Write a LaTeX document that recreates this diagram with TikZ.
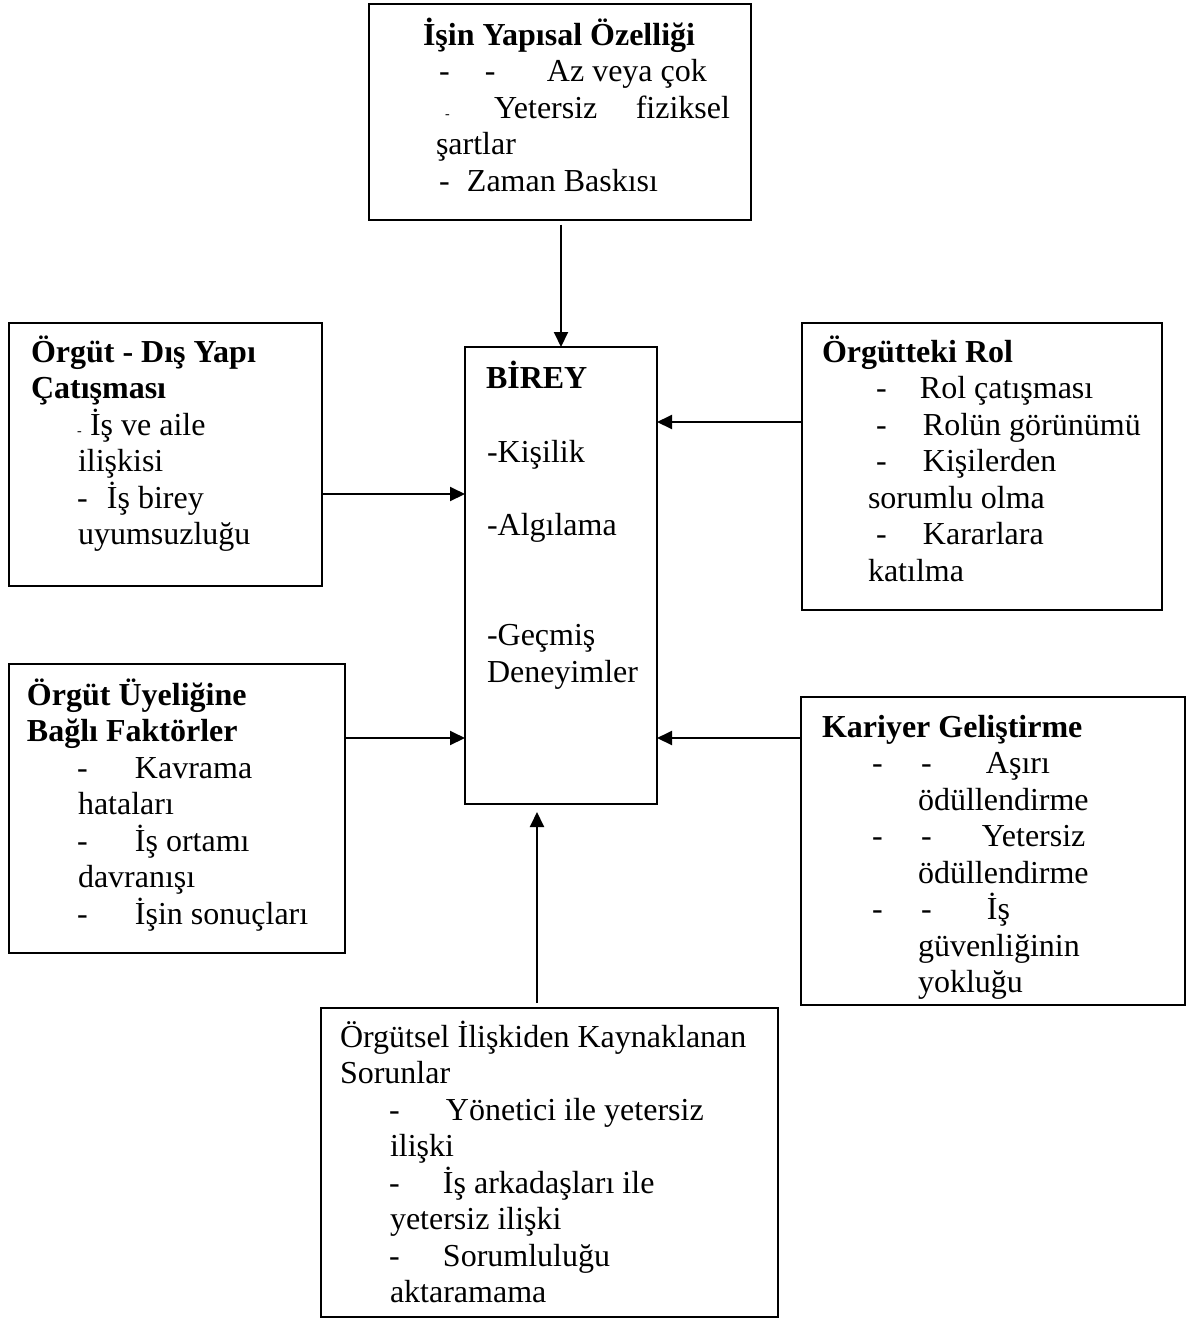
\documentclass[tikz,border=0pt]{standalone}
\usepackage{fontspec}
\setmainfont{Liberation Serif}
\usetikzlibrary{arrows.meta,calc}
% a hyphen that keeps no width, followed by a fixed gap (tab stop)
\newcommand\dsh[1]{\rlap{-}\hspace*{#1pt}}
% a small hyphen, as in the original lists
\newcommand\sdsh[1]{\rlap{\fontsize{14pt}{14pt}\selectfont -}\hspace*{#1pt}}
% one line of text, placed by its baseline start
\newcommand\txtline[4]{\node[txt] (#1) at (#2,#3) {#4};}
\newcommand\hdline[4]{\node[head] (#1) at (#2,#3) {#4};}

\begin{document}
\begin{tikzpicture}[x=1pt,y=-1pt,
  box/.style={draw, line width=2pt, inner sep=0pt, outer sep=0pt, anchor=north west},
  txt/.style={anchor=base west, inner sep=0pt, outer sep=0pt,
              font=\fontsize{32pt}{36.6pt}\selectfont},
  head/.style={txt, font=\fontsize{32pt}{36.6pt}\selectfont\bfseries},
  arr/.style={line width=2pt, -{Triangle[length=15pt,width=14pt]}}]

\useasboundingbox (0,0) rectangle (1198,1320);

% ---- boxes ----
\node[box, minimum width=382pt, minimum height=216pt] (T)  at (369,3.5) {};
\node[box, minimum width=313pt, minimum height=263pt] (L1) at (9,323) {};
\node[box, minimum width=360pt, minimum height=287pt] (R1) at (802,323) {};
\node[box, minimum width=336pt, minimum height=289pt] (L2) at (9,664) {};
\node[box, minimum width=384pt, minimum height=308pt] (R2) at (801,697) {};
\node[box, minimum width=457pt, minimum height=309pt] (B)  at (321,1008) {};
\node[box, minimum width=192pt, minimum height=457pt] (C)  at (465,347) {};

% ---- connectors into the central box ----
\draw[arr] ($(T.south)+(1,5)$) -- ($(T.south |- C.north)+(1,0)$);
\draw[arr] ($(B.north)+(-12.5,-5)$) -- ($(B.north |- C.south)+(-12.5,8)$);
\draw[arr] ($(L1.north east)+(0,171)$) coordinate (a1) -- (a1 -| C.west);
\draw[arr] ($(R1.north west)+(0,99)$)  coordinate (a2) -- (a2 -| C.east);
\draw[arr] ($(L2.north east)+(0,74)$)  coordinate (a3) -- (a3 -| C.west);
\draw[arr] ($(R2.north west)+(0,41)$)  coordinate (a4) -- (a4 -| C.east);

% ---- top box ----
\hdline{t1}{423}{45}{İşin Yapısal Özelliği}
\txtline{t2}{439}{81.5}{\dsh{46}\dsh{62}Az veya çok}
\txtline{t3}{445}{118}{\sdsh{49}\makebox[236pt][s]{Yetersiz fiziksel}}
\txtline{t4}{436}{154.5}{şartlar}
\txtline{t5}{439}{191}{\dsh{28}Zaman Baskısı}

% ---- left upper box ----
\hdline{l1}{31}{362}{Örgüt - Dış Yapı}
\hdline{l2}{31}{398.5}{Çatışması}
\txtline{l3}{77}{435}{\sdsh{13}İş ve aile}
\txtline{l4}{78}{471.5}{ilişkisi}
\txtline{l5}{77}{508}{\dsh{30}İş birey}
\txtline{l6}{78}{544.5}{uyumsuzluğu}

% ---- right upper box ----
\hdline{r1}{822}{362}{Örgütteki Rol}
\txtline{r2}{876}{398.5}{\dsh{44}Rol çatışması}
\txtline{r3}{876}{435}{\dsh{47}Rolün görünümü}
\txtline{r4}{876}{471.5}{\dsh{47}Kişilerden}
\txtline{r5}{868}{508}{sorumlu olma}
\txtline{r6}{876}{544.5}{\dsh{47}Kararlara}
\txtline{r7}{868}{581}{katılma}

% ---- central box ----
\hdline{c1}{486}{388}{BİREY}
\txtline{c2}{487}{462}{-Kişilik}
\txtline{c3}{487}{535}{-Algılama}
\txtline{c4}{487}{645}{-Geçmiş}
\txtline{c5}{487}{682}{Deneyimler}

% ---- left lower box ----
\hdline{m1}{27}{705}{Örgüt Üyeliğine}
\hdline{m2}{27}{741.5}{Bağlı Faktörler}
\txtline{m3}{77}{778}{\dsh{58}Kavrama}
\txtline{m4}{78}{814.5}{hataları}
\txtline{m5}{77}{851}{\dsh{58}İş ortamı}
\txtline{m6}{78}{887.5}{davranışı}
\txtline{m7}{77}{924}{\dsh{58}İşin sonuçları}

% ---- right lower box ----
\hdline{k1}{822}{737}{Kariyer Geliştirme}
\txtline{k2}{872}{773.5}{\dsh{49}\dsh{65}Aşırı}
\txtline{k3}{918}{810}{ödüllendirme}
\txtline{k4}{872}{846.5}{\dsh{49}\dsh{61}Yetersiz}
\txtline{k5}{918}{883}{ödüllendirme}
\txtline{k6}{872}{919.5}{\dsh{49}\dsh{66}İş}
\txtline{k7}{918}{956}{güvenliğinin}
\txtline{k8}{918}{992.5}{yokluğu}

% ---- bottom box ----
\txtline{b1}{340}{1047}{Örgütsel İlişkiden Kaynaklanan}
\txtline{b2}{340}{1083.5}{Sorunlar}
\txtline{b3}{389}{1120}{\dsh{57}Yönetici ile yetersiz}
\txtline{b4}{390}{1156.5}{ilişki}
\txtline{b5}{389}{1193}{\dsh{54}İş arkadaşları ile}
\txtline{b6}{390}{1229.5}{yetersiz ilişki}
\txtline{b7}{389}{1266}{\dsh{54}Sorumluluğu}
\txtline{b8}{390}{1302.5}{aktaramama}

\end{tikzpicture}
\end{document}
